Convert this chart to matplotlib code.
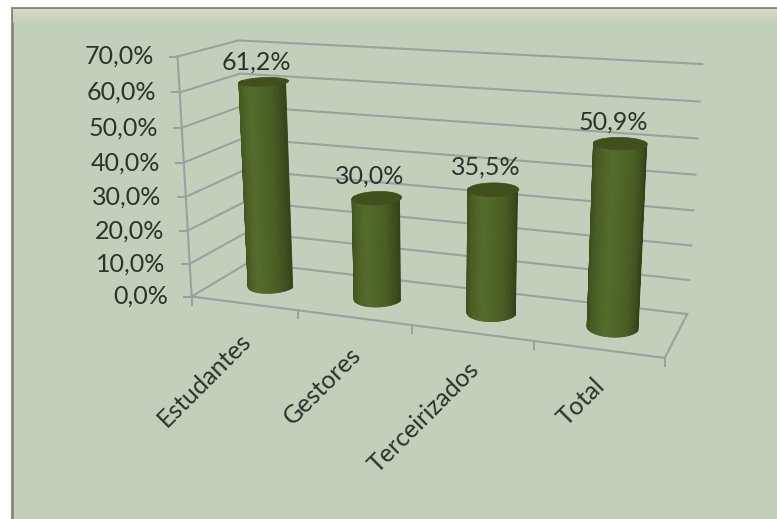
import numpy as np
import matplotlib
matplotlib.use('Agg')
import matplotlib.pyplot as plt
from matplotlib.collections import PolyCollection
from matplotlib.colors import LinearSegmentedColormap
from matplotlib.patches import Rectangle, Polygon

categories = ['Estudantes', 'Gestores', 'Terceirizados', 'Total']
values = [61.2, 30.0, 35.5, 50.9]
value_labels = ['61,2%', '30,0%', '35,5%', '50,9%']
axis_ticks = [0, 10, 20, 30, 40, 50, 60, 70]
axis_labels = ['0,0%', '10,0%', '20,0%', '30,0%', '40,0%', '50,0%', '60,0%', '70,0%']

plt.rcParams['font.family'] = ['Lato', 'DejaVu Sans']

# box corners (category, depth, value) and where they land in the picture
box_3d = np.array([[0, 0, 0], [4, 0, 0], [0, 1, 0], [4, 1, 0],
                   [0, 0, 70], [0, 1, 70], [4, 1, 70]], dtype=float)
box_px = np.array([[191, 296], [665, 358], [249, 263], [687, 314],
                   [178, 57], [238, 40], [702, 64]], dtype=float)


def fit_camera(world, px):
    rows = []
    for (x, y, z), (u, v) in zip(world, px):
        rows.append([x, y, z, 1, 0, 0, 0, 0, -u*x, -u*y, -u*z, -u])
        rows.append([0, 0, 0, 0, x, y, z, 1, -v*x, -v*y, -v*z, -v])
    return np.linalg.svd(np.array(rows))[2][-1].reshape(3, 4)


cam = fit_camera(box_3d, box_px)


def project(x, y, z):
    x, y, z = np.broadcast_arrays(x, y, z)
    pts = cam @ np.vstack([x.ravel(), y.ravel(), z.ravel(), np.ones(x.size)])
    return np.column_stack([pts[0]/pts[2], pts[1]/pts[2]])


fig = plt.figure(figsize=(7.77, 5.19), dpi=100)
ax = fig.add_axes([0, 0, 1, 1])
ax.set_xlim(0, 777)
ax.set_ylim(519, 0)
ax.axis('off')

# panel
ax.add_patch(Rectangle((11.5, 8), 770, 520, fc='#c2cfbb', ec='#84867c', lw=2, zorder=0))
band = LinearSegmentedColormap.from_list('band', ['#dcd9c6', '#c2cfbb'])
ax.imshow(np.linspace(0, 1, 20).reshape(-1, 1), cmap=band, extent=(13, 777, 23, 9),
          aspect='auto', zorder=0.5)
ax.set_xlim(0, 777)
ax.set_ylim(519, 0)

grid_col = '#97a39f'
text_col = '#2c332c'
for t, lab in zip(axis_ticks, axis_labels):
    wall = project([0, 0, 4], [0, 1, 1], t)
    ax.plot(wall[:, 0], wall[:, 1], color=grid_col, lw=1.5, zorder=1)
    ax.plot([wall[0, 0]-8, wall[0, 0]], [wall[0, 1], wall[0, 1]], color=grid_col, lw=1.5, zorder=1)
    ax.text(wall[0, 0]-24, wall[0, 1], lab, ha='right', va='center', fontsize=18, color=text_col)

floor = project([0, 4, 4], [0, 0, 1], 0)
ax.plot(floor[:, 0], floor[:, 1], color=grid_col, lw=1.5, zorder=1)
axis_line = project(0, 0, [0, 70])
ax.plot(axis_line[:, 0], axis_line[:, 1], color=grid_col, lw=1.5, zorder=1)

for i in range(5):
    p = project(i, 0, 0)[0]
    ax.plot([p[0], p[0]], [p[1], p[1]+8], color=grid_col, lw=1.5, zorder=1)

# cylinders
shade = LinearSegmentedColormap.from_list('shade', ['#354518', '#465922', '#556b2b', '#4a5e24', '#33431a'])
radius_x = 0.2
radius_y = 0.22
for i, (name, val, lab) in enumerate(zip(categories, values, value_labels)):
    cx = i + 0.5
    t = np.linspace(np.pi, 2*np.pi, 41)
    xs = cx + radius_x*np.cos(t)
    ys = 0.5 + radius_y*np.sin(t)
    low = project(xs, ys, 0)
    high = project(xs, ys, val)
    quads = [np.vstack([low[j], low[j+1], high[j+1], high[j]]) for j in range(len(t)-1)]
    cols = shade(np.linspace(0, 1, len(quads)))
    ax.add_collection(PolyCollection(quads, facecolors=cols, edgecolors=cols, lw=0.6, zorder=3))
    t2 = np.linspace(0, 2*np.pi, 61)
    cap = project(cx + radius_x*np.cos(t2), 0.5 + radius_y*np.sin(t2), val)
    ax.add_patch(Polygon(cap, fc='#404f1c', ec='#404f1c', lw=0.5, zorder=4))
    top = cap[:, 1].min()
    mid = cap.mean(axis=0)
    ax.annotate(lab, (mid[0], top), xytext=(-8, 4), textcoords='offset pixels', ha='center',
                va='bottom', fontsize=18, color=text_col, zorder=5)
    tick = project(cx, 0, 0)[0]
    ax.annotate(name, (tick[0], tick[1]), xytext=(-5, -25), textcoords='offset pixels', ha='right',
                va='top', rotation=45, rotation_mode='anchor', fontsize=18, color=text_col)

fig.savefig('out.png', dpi=100)
